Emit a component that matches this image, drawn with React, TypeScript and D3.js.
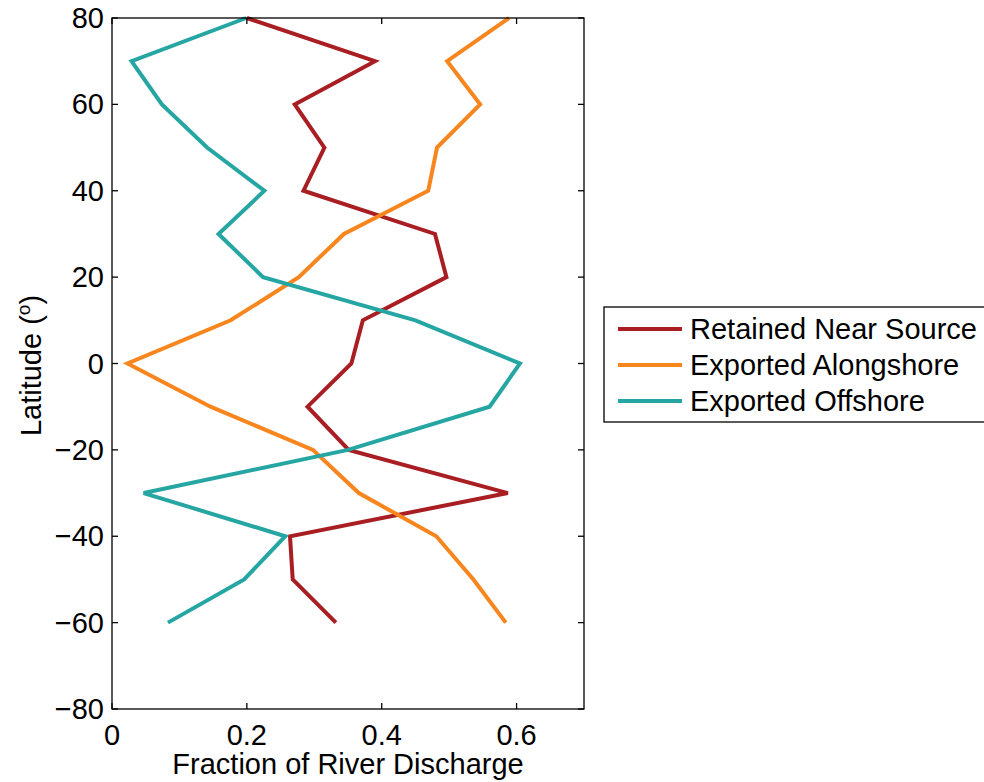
import React from "react";
import * as d3 from "d3";

// Latitude bands (degrees) at which the fractions are reported
const latitudes = [80, 70, 60, 50, 40, 30, 20, 10, 0, -10, -20, -30, -40, -50, -60];

// Fraction of river discharge for each fate, one value per latitude band
const retainedNearSource = [0.2, 0.39, 0.271, 0.315, 0.284, 0.479, 0.496, 0.372, 0.355, 0.29, 0.351, 0.587, 0.264, 0.268, 0.332];
const exportedAlongshore = [0.589, 0.497, 0.546, 0.482, 0.469, 0.344, 0.277, 0.176, 0.023, 0.146, 0.298, 0.366, 0.481, 0.536, 0.584];
const exportedOffshore = [0.199, 0.029, 0.074, 0.141, 0.226, 0.158, 0.224, 0.45, 0.605, 0.56, 0.35, 0.047, 0.257, 0.196, 0.083];

const seriesNames = ["Retained Near Source", "Exported Alongshore", "Exported Offshore"];
const seriesColors = ["#A91E23", "#F7861F", "#26A6A2"];

const xTicks = [0, 0.2, 0.4, 0.6];
const yTicks = [-80, -60, -40, -20, 0, 20, 40, 60, 80];

const W = 984;
const H = 782;
const left = 112;
const right = 584;
const top = 18;
const bottom = 709;
const FONT = "'Liberation Sans', Arial, Helvetica, sans-serif";
const FS = 29;
const TICK = 6;

export default function App() {
  const x = d3.scaleLinear().domain([0, 0.7]).range([left, right]);
  const y = d3.scaleLinear().domain([-80, 80]).range([bottom, top]);

  const seriesValues = [retainedNearSource, exportedAlongshore, exportedOffshore];
  const line = d3
    .line<[number, number]>()
    .x((d) => x(d[0]))
    .y((d) => y(d[1]));

  const fmtX = (v: number) => (v === 0 ? "0" : d3.format(".1f")(v));
  const fmtY = (v: number) => (v < 0 ? "\u2212" + Math.abs(v) : String(v));

  const legendX = 604;
  const legendY = 307;
  const rowGap = 36;

  return (
    <svg
      width={W}
      height={H}
      style={{ position: "absolute", left: 0, top: 0, background: "#fff" }}
      fontFamily={FONT}
    >
      <rect x={0} y={0} width={W} height={H} fill="#fff" />

      {/* data lines */}
      <g fill="none" strokeWidth={4} strokeLinejoin="miter" strokeLinecap="butt">
        {seriesValues.map((vals, i) => (
          <path
            key={seriesNames[i]}
            d={line(vals.map((v, j) => [v, latitudes[j]] as [number, number])) || ""}
            stroke={seriesColors[i]}
          />
        ))}
      </g>

      {/* axes box with inward ticks */}
      <g stroke="#000" strokeWidth={1.3} fill="none">
        <rect x={left} y={top} width={right - left} height={bottom - top} />
        {xTicks.map((t) => (
          <g key={"xt" + t}>
            <line x1={x(t)} x2={x(t)} y1={bottom} y2={bottom - TICK} />
            <line x1={x(t)} x2={x(t)} y1={top} y2={top + TICK} />
          </g>
        ))}
        {yTicks.map((t) => (
          <g key={"yt" + t}>
            <line x1={left} x2={left + TICK} y1={y(t)} y2={y(t)} />
            <line x1={right} x2={right - TICK} y1={y(t)} y2={y(t)} />
          </g>
        ))}
      </g>

      {/* tick labels */}
      <g fontSize={FS} fill="#000">
        {xTicks.map((t) => (
          <text key={"xl" + t} x={x(t)} y={745} textAnchor="middle">
            {fmtX(t)}
          </text>
        ))}
        {yTicks.map((t) => (
          <text key={"yl" + t} x={104} y={y(t) + 10} textAnchor="end">
            {fmtY(t)}
          </text>
        ))}
      </g>

      {/* axis titles */}
      <text x={(left + right) / 2} y={774} textAnchor="middle" fontSize={FS} fill="#000">
        Fraction of River Discharge
      </text>
      <text
        transform={`translate(41, ${(top + bottom) / 2 + 2}) rotate(-90)`}
        textAnchor="middle"
        fontSize={FS}
        fill="#000"
      >
        Latitude (
        <tspan fontSize={19} dy={-11}>
          o
        </tspan>
        <tspan dy={11}>)</tspan>
      </text>

      {/* legend */}
      <g>
        <rect
          x={legendX}
          y={legendY}
          width={420}
          height={115}
          fill="#fff"
          stroke="#000"
          strokeWidth={1.3}
        />
        {seriesNames.map((name, i) => {
          const ly = legendY + 22 + i * rowGap;
          return (
            <g key={"lg" + name}>
              <line x1={618} x2={682} y1={ly} y2={ly} stroke={seriesColors[i]} strokeWidth={4} />
              <text x={690} y={ly + 10} fontSize={FS} fill="#000">
                {name}
              </text>
            </g>
          );
        })}
      </g>
    </svg>
  );
}
